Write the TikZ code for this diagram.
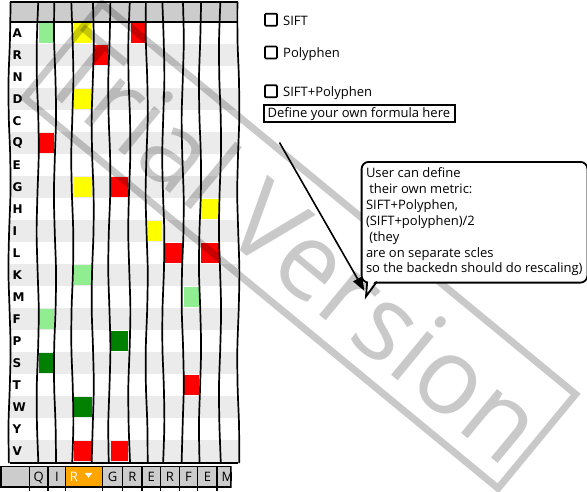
\documentclass[tikz,border=0pt]{standalone}
\usepackage{fontspec}
\setmainfont{Open Sans}
\newfontfamily\labfont{DejaVu Sans}
\usetikzlibrary{arrows.meta}
\definecolor{hdrgray}{HTML}{CCCCCC}
\definecolor{stripe}{HTML}{EBEBEB}
\definecolor{lgreen}{HTML}{90EE90}
\definecolor{dgreen}{HTML}{008000}
\definecolor{cyellow}{HTML}{FFFF00}
\definecolor{cred}{HTML}{FF0000}
\definecolor{corange}{HTML}{FFA500}
\tikzset{
  gridline/.style={line width=1.7pt, black},
  rowlab/.style={anchor=west, inner sep=0pt, font=\labfont\bfseries\fontsize{12}{12}\selectfont},
  uitext/.style={anchor=base west, inner sep=0pt, font=\fontsize{13}{16}\selectfont},
  bartext/.style={anchor=base, inner sep=0pt, font=\fontsize{13}{16}\selectfont},
  chkbox/.style={draw, line width=1.7pt, minimum size=12pt, inner sep=0pt, rounded corners=1pt},
  fbox/.style={draw, line width=2pt, inner sep=0pt, anchor=north west},
  calloutbox/.style={draw, line width=1.8pt, fill=white, rounded corners=7pt, inner sep=0pt, anchor=north west},
  wmark/.style={opacity=0.21},
  arr/.style={line width=1.6pt, -{Triangle[length=14pt,width=10pt]}}
}
\begin{document}
\begin{tikzpicture}[x=1pt,y=-1pt]
\useasboundingbox (0,0) rectangle (587,491);
\fill[white] (0,0) rectangle (587,491);
% header and stripes
\fill[hdrgray] (9.5,2) rectangle (238.3,22);
\foreach \r in {2,4,...,20} \fill[stripe] (9.5,{22*\r}) rectangle (238.3,{22*\r+22});
% coloured cells
\def\colx{{9.5,37.7,55,72.3,92.7,109.3,129.3,146.7,163.3,182.7,200,220,238.3}}
\foreach \c/\r/\cc in {1/1/lgreen,3/1/cyellow,6/1/cred,4/2/cred,3/4/cyellow,1/6/cred,
  3/8/cyellow,5/8/cred,10/9/cyellow,7/10/cyellow,8/11/cred,10/11/cred,3/12/lgreen,
  9/13/lgreen,1/14/lgreen,5/15/dgreen,1/16/dgreen,9/17/cred,3/18/dgreen,3/20/cred,5/20/cred}{
  \pgfmathsetmacro\xa{\colx[\c]+1.2}
  \pgfmathsetmacro\xb{\colx[\c+1]-1.2}
  \fill[\cc] (\xa,{22*\r+0.8}) rectangle (\xb,{22*\r+21.2});
}
% grid lines
\foreach \xx [count=\i] in {9.5,37.7,55,72.3,92.7,109.3,129.3,146.7,163.3,182.7,200,220,238.3}
  \draw[gridline] plot[smooth, variable=\t, domain=2:463, samples=13] ({\xx+1.1*sin(\t*2.1+\i*73)},{\t});
\draw[gridline] (9.5,2) -- (238.3,2);
\draw[line width=2.1pt] (9.5,22) -- (238.3,22);
\draw[gridline] (9.5,463) -- (238.3,463);
% row labels
\foreach \l [count=\r] in {A,R,N,D,C,Q,E,G,H,I,L,K,M,F,P,S,T,W,Y,V}
  \node[rowlab] (lab\r) at (12.5,{22*\r+11}) {\l};
% bottom tab bar
\begin{scope}
\clip (0,460) rectangle (231.5,491);
\fill[hdrgray] (0.8,466.5) rectangle (231,487);
\fill[corange] (65.7,466.5) rectangle (102.7,487);
\foreach \sx in {29.3,48,65.7,102.7,122.7,141.8,160.5,179.3,197.7,217}
  \draw[line width=1.4pt] (\sx,466.5) -- (\sx,491);
\draw[line width=1.5pt] (0.8,466.5) rectangle (231,487);
\foreach \tx/\tl [count=\k] in {38.7/Q,56.9/I,112.7/G,132.4/R,151.2/E,170/R,188.6/F,207.4/E,227.5/M}
  \node[bartext] (tab\k) at (\tx,481.5) {\tl};
\node[bartext, text=white] (tabsel) at (74,481.5) {R};
\fill[white] (84.8,472.8) -- (92.2,472.8) -- (88.5,477.8) -- cycle;
\end{scope}
% watermark
\begin{scope}[wmark]
\draw[line width=7pt, rotate around={-39.5:(300,246)}] (-7,185) rectangle (607,307);
\node[rotate=-39.5, inner sep=0pt, font=\fontsize{106}{106}\selectfont] (wm) at (296,245) {Trial Version};
\end{scope}
% checkboxes
\node[chkbox] (cb1) at (271,19.7) {};
\node[uitext] (t1) at (283,25) {SIFT};
\node[chkbox] (cb2) at (271,52.5) {};
\node[uitext] (t2) at (283,57.5) {Polyphen};
\node[chkbox] (cb3) at (271,91.3) {};
\node[uitext] (t3) at (283,96.7) {SIFT+Polyphen};
% formula box
\node[fbox, minimum width=190.7pt, minimum height=16.4pt] (formula) at (263.3,104.3) {};
\node[uitext] (formulatxt) at (267.5,117.3) {Define your own formula here};
% callout
\node[calloutbox, minimum width=225.8pt, minimum height=120.7pt] (callout) at (360.7,161) {};
\fill[white] (367.8,280.2) -- (366.5,294.5) -- (375.4,280.2) -- cycle;
\draw[line width=1.8pt, line join=miter] (367.2,281.7) -- (366,296.5) -- (376.8,281.7);
\foreach \ln [count=\k] in {User can define,\hspace*{3.3pt}their own metric:,{SIFT+Polyphen,},(SIFT+polyphen)/2,\hspace*{3.3pt}(they,are on separate scles,so the backedn should do rescaling)}
  \node[uitext] (cl\k) at (365.8,{177.5+15.9*(\k-1)}) {\ln};
% arrow
\coordinate (astart) at (279.5,142.5);
\coordinate (aend) at (364.5,291);
\draw[arr] (astart) -- (aend);
\end{tikzpicture}
\end{document}
